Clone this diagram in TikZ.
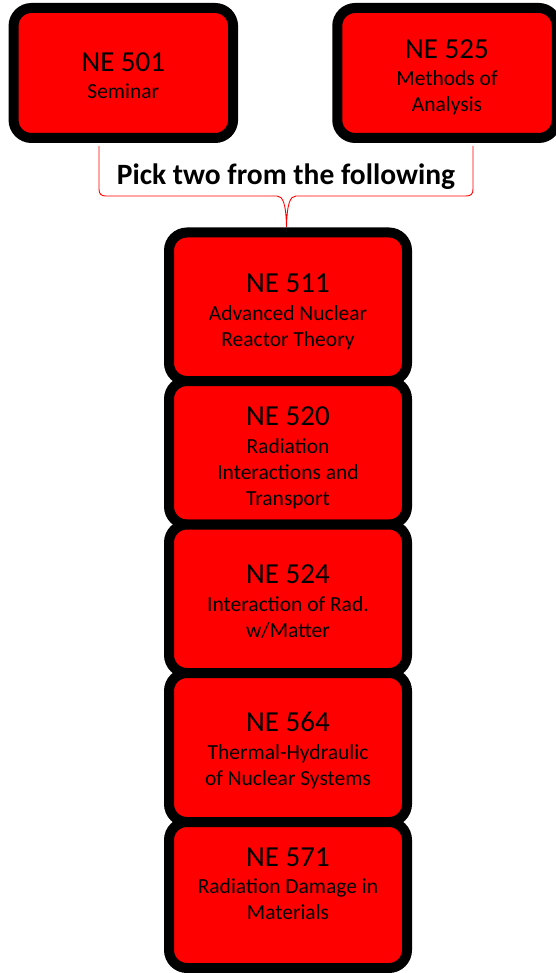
\documentclass[tikz,border=0pt]{standalone}
\usepackage{fontspec}
\setmainfont{Carlito}
\usepackage{tikz}
\usetikzlibrary{positioning}

\tikzset{
	course/.style={draw=black,fill=red,line width=10pt,rounded corners=18pt},
	course-text/.style={align=center,inner sep=0pt,font=\fontsize{21.5}{26}\selectfont},
	pick-brace/.style={draw=red,line width=0.9pt}
}
\newcommand{\coursenum}[1]{{\fontsize{29}{29}\selectfont #1}\\[1.5pt]}

\begin{document}
\begin{tikzpicture}[x=1pt,y=-1pt]
	\useasboundingbox (0,0) rectangle (556,973);

	% required courses
	\node[course,minimum width=219.5pt,minimum height=130pt] at (123.3, 73) (ne-501) {};
	\node[course-text] at ([yshift=-2.5pt]ne-501.center) (ne-501-text)
		{\coursenum{NE 501}Seminar};
	\node[course,minimum width=219.5pt,minimum height=130pt] at (447, 73) (ne-525) {};
	\node[course-text] at ([yshift=-4.5pt]ne-525.center) (ne-525-text)
		{\coursenum{NE 525}Methods of\\Analysis};

	\node[font=\fontsize{29.5}{30}\selectfont\bfseries,anchor=base] at (286, 185) (pick)
		{Pick two from the following};

	% electives
	\node[course,minimum width=238pt,minimum height=148.5pt] at (288, 306.75) (ne-511) {};
	\node[course-text] at ([yshift=-5pt]ne-511.center) (ne-511-text)
		{\coursenum{NE 511}Advanced Nuclear\\Reactor Theory};
	\node[course,minimum width=238pt,minimum height=143.5pt] at (288, 452.75) (ne-520) {};
	\node[course-text] at ([yshift=-5pt]ne-520.center) (ne-520-text)
		{\coursenum{NE 520}Radiation\\Interactions and\\Transport};
	\node[course,minimum width=238pt,minimum height=148.5pt] at (288, 598.75) (ne-524) {};
	\node[course-text] at ([yshift=-3pt]ne-524.center) (ne-524-text)
		{\coursenum{NE 524}Interaction of Rad.\\w/Matter};
	\node[course,minimum width=238pt,minimum height=149pt] at (288, 747.5) (ne-564) {};
	\node[course-text] at ([yshift=-3pt]ne-564.center) (ne-564-text)
		{\coursenum{NE 564}Thermal-Hydraulic\\of Nuclear Systems};
	\node[course,minimum width=238pt,minimum height=146pt] at (288, 895) (ne-571) {};
	\node[course-text] at ([yshift=11.5pt]ne-571.center) (ne-571-text)
		{\coursenum{NE 571}Radiation Damage in\\Materials};

	% brace from the two required courses down to the electives
	\coordinate (brace-left) at (99, 146);
	\coordinate (brace-right) at (473, 146);
	\coordinate (brace-tip) at (286.5, 227);
	\draw[pick-brace] (brace-left) -- (99, 189)
		.. controls (99, 194) and (101, 196) .. (106, 196) -- (277, 196)
		.. controls (283, 196) and (286, 204) .. (brace-tip)
		.. controls (287, 204) and (290, 196) .. (296, 196) -- (466, 196)
		.. controls (471, 196) and (473, 194) .. (473, 189) -- (brace-right);
\end{tikzpicture}
\end{document}
